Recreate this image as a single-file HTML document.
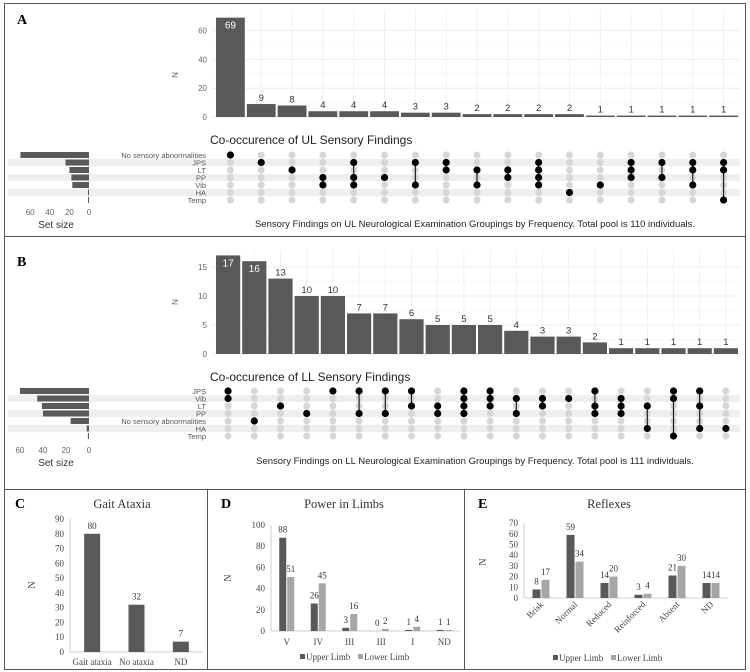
<!DOCTYPE html>
<html><head><meta charset="utf-8"><style>
html,body{margin:0;padding:0;background:#fff;}
svg{display:block;}
.sans{font-family:"Liberation Sans",sans-serif;}
.serif{font-family:"Liberation Serif",serif;}
</style></head>
<body>
<svg id="fig" width="750" height="672" viewBox="0 0 750 672" xmlns="http://www.w3.org/2000/svg">
<rect x="0" y="0" width="750" height="672" fill="#fff"/>
<rect x="4.5" y="3.5" width="741" height="233" fill="none" stroke="#555"/>
<rect x="4.5" y="236.5" width="741" height="253" fill="none" stroke="#555"/>
<rect x="4.5" y="489.5" width="203" height="180" fill="none" stroke="#555"/>
<rect x="207.5" y="489.5" width="257" height="180" fill="none" stroke="#555"/>
<rect x="464.5" y="489.5" width="281" height="180" fill="none" stroke="#555"/>
<text x="17" y="24" class="serif" font-size="14" font-weight="bold">A</text>
<text x="17" y="266" class="serif" font-size="14" font-weight="bold">B</text>
<text x="15" y="508" class="serif" font-size="14" font-weight="bold">C</text>
<text x="221" y="508" class="serif" font-size="14" font-weight="bold">D</text>
<text x="478" y="508" class="serif" font-size="14" font-weight="bold">E</text>
</svg>
<script>
// ---- Panel A data ----
const aValues = [69,9,8,4,4,4,3,3,2,2,2,2,1,1,1,1,1];
const aSets = ["No sensory abnormalities","JPS","LT","PP","Vib","HA","Temp"];
const aSetSizes = [70,24,20,18,17,1,1];
const aCombos = [[0],[1],[2],[3,4],[1,3,4],[3],[1,4],[1,2],[2,4],[2,3],[1,2,3,4],[5],[4],[1,2,3],[1,3],[1,2,4],[1,2,6]];
const aTicks = [0,20,40,60];
const aSetTicks = [60,40,20,0];
// ---- Panel B data ----
const bValues = [17,16,13,10,10,7,7,6,5,5,5,4,3,3,2,1,1,1,1,1];
const bSets = ["JPS","Vib","LT","PP","No sensory abnormalities","HA","Temp"];
const bSetSizes = [60,45,41,40,16,2,1];
const bCombos = [[0,1],[4],[2],[3],[0],[0,3],[0,3],[0,2],[2,3],[0,1,2,3],[0,1,2],[1,3],[1,2],[1],[0,2,3],[1,2,3],[2,5],[0,1,6],[0,2,5],[5]];
const bTicks = [0,5,10,15];
const bSetTicks = [60,40,20,0];
// ---- Panel C data ----
const cCats = ["Gait ataxia","No ataxia","ND"];
const cVals = [80,32,7];
const cTicks = [0,10,20,30,40,50,60,70,80,90];
// ---- Panel D data ----
const dCats = ["V","IV","III","III","I","ND"];
const dUpper = [88,26,3,0,1,1];
const dLower = [51,45,16,2,4,1];
const dTicks = [0,20,40,60,80,100];
// ---- Panel E data ----
const eCats = ["Brisk","Normal","Reduced","Reinforced","Absent","ND"];
const eUpper = [8,59,14,3,21,14];
const eLower = [17,34,20,4,30,14];
const eTicks = [0,10,20,30,40,50,60,70];

const NS="http://www.w3.org/2000/svg";
const svg=document.getElementById('fig');
function el(tag,attrs,txt){const e=document.createElementNS(NS,tag);for(const k in attrs)e.setAttribute(k,attrs[k]);if(txt!==undefined)e.textContent=txt;svg.appendChild(e);return e;}

function upset(o){
  const n=o.values.length, pitch=(o.x1-o.x0)/n;
  const y=v=>o.zero-v*o.ppu;
  const cx=i=>o.x0+(i+0.5)*pitch;
  // grid
  for(let k=0;k<o.ticks.length;k++){
    const t=o.ticks[k];
    let g=el('line',{x1:o.x0-3,x2:o.x1+1,y1:y(t),y2:y(t),stroke:'#e8e8e8','stroke-width':0.8});
    
    
    if(k<o.ticks.length-1){const m=(t+o.ticks[k+1])/2;
      let g2=el('line',{x1:o.x0-3,x2:o.x1+1,y1:y(m),y2:y(m),stroke:'#f2f2f2','stroke-width':0.6});
      
      }
    let tl=el('text',{x:o.x0-8,y:y(t)+3,'font-size':8,fill:'#666','text-anchor':'end',class:'sans'},String(t));
    
    
  }
  for(let i=0;i<n;i++){
    let g=el('line',{x1:cx(i),x2:cx(i),y1:o.top,y2:o.zero,stroke:'#ededed','stroke-width':0.8});
    
    
  }
  let yt=el('text',{x:o.nx,y:o.ny,'font-size':8,fill:'#666','text-anchor':'middle',class:'sans',transform:`rotate(90 ${o.nx} ${o.ny})`},'N');
  
  
  // bars
  for(let i=0;i<n;i++){
    const v=o.values[i];
    let b=el('rect',{x:o.x0+i*pitch+1,y:y(v),width:pitch-2,height:v*o.ppu,fill:'#595959'});
    
    
    const inside=i<o.inside;
    let t=el('text',{x:cx(i),y:inside?y(v)+11:y(v)-3,'font-size':inside?10:9.5,fill:inside?'#fff':'#333','text-anchor':'middle',class:'sans'},String(v));
    
    
  }
  let ti=el('text',{x:o.x0-5,y:o.titleY,'font-size':12,fill:'#222',class:'sans'},o.title);
  
  
  const ry=r=>o.row0+r*o.rowStep;
  // bands
  for(let r=1;r<o.sets.length;r+=2){
    let band=el('rect',{x:8,y:ry(r)-o.rowStep/2,width:732,height:o.rowStep,fill:'#efefef'});
    
    
  }
  // set labels and set size bars
  for(let r=0;r<o.sets.length;r++){
    let l=el('text',{x:206,y:ry(r)+2.8,'font-size':7.5,fill:'#555','text-anchor':'end',class:'sans'},o.sets[r]);
    
    
    const w=o.setSizes[r]*o.sppu;
    let b=el('rect',{x:89-w,y:ry(r)-3,width:Math.max(w,1),height:6,fill:'#595959'});
    
    
  }
  for(const t of o.setTicks){
    let tl=el('text',{x:89-t*o.sppu,y:o.setTickY,'font-size':8,fill:'#666','text-anchor':'middle',class:'sans'},String(t));
    
    
  }
  let st=el('text',{x:56,y:o.setTickY+13,'font-size':10,fill:'#333','text-anchor':'middle',class:'sans'},'Set size');
  
  
  // dots
  for(let i=0;i<n;i++){
    for(let r=0;r<o.sets.length;r++){
      let d=el('circle',{cx:cx(i),cy:ry(r),r:3.5,fill:'#d6d6d6'});
      
      
    }
    const c=o.combos[i];
    const mn=Math.min(...c),mx=Math.max(...c);
    if(mx>mn){let ln=el('line',{x1:cx(i),x2:cx(i),y1:ry(mn),y2:ry(mx),stroke:'#111','stroke-width':1.1});
      
      }
    for(const r of c){
      let d=el('circle',{cx:cx(i),cy:ry(r),r:3.6,fill:'#000'});
      
      
    }
  }
  let cap=el('text',{x:475,y:o.capY,'font-size':9.5,fill:'#222','text-anchor':'middle',class:'sans'},o.caption);
  
  
}

upset({values:aValues,sets:aSets,setSizes:aSetSizes,combos:aCombos,ticks:aTicks,setTicks:aSetTicks,
  x0:215,x1:739,zero:117,ppu:1.44,top:10,inside:1,nx:172,ny:75,title:'Co-occurence of UL Sensory Findings',titleY:144,
  row0:155,rowStep:7.5,sppu:0.98,setTickY:215,capY:227,
  caption:'Sensory Findings on UL Neurological Examination Groupings by Frequency. Total pool is 110 individuals.'});
upset({values:bValues,sets:bSets,setSizes:bSetSizes,combos:bCombos,ticks:bTicks,setTicks:bSetTicks,
  x0:215,x1:739,zero:354,ppu:5.8,top:250,inside:2,nx:172,ny:302,title:'Co-occurence of LL Sensory Findings',titleY:381,
  row0:391,rowStep:7.5,sppu:1.15,setTickY:453,capY:464,
  caption:'Sensory Findings on LL Neurological Examination Groupings by Frequency. Total pool is 111 individuals.'});

function barChart(o){
  const n=o.cats.length, pitch=(o.x1-o.x0)/n;
  const y=v=>o.zero-v*o.ppu;
  const cx=i=>o.x0+(i+0.5)*pitch;
  let ti=el('text',{x:o.titleX,y:508,'font-size':12.5,fill:'#333','text-anchor':'middle',class:'serif'},o.title);
  
  
  for(const t of o.ticks){
    let tl=el('text',{x:o.x0-6,y:y(t)+3,'font-size':9,fill:'#444','text-anchor':'end',class:'serif'},String(t));
    
    
  }
  let ax=el('line',{x1:o.x0,x2:o.x0,y1:y(o.ticks[o.ticks.length-1]),y2:o.zero,stroke:'#bfbfbf','stroke-width':0.8});
  
  
  let bx=el('line',{x1:o.x0,x2:o.x1,y1:o.zero,y2:o.zero,stroke:'#bfbfbf','stroke-width':0.8});
  
  
  let yt=el('text',{x:o.nx,y:o.ny,'font-size':10,fill:'#444','text-anchor':'middle',class:'serif',transform:`rotate(-90 ${o.nx} ${o.ny})`},'N');
  
  
  const cols=['#595959','#a6a6a6'];
  const ns=o.series.length;
  for(let i=0;i<n;i++){
    for(let s=0;s<ns;s++){
      const v=o.series[s][i];
      const bx0=ns===1?cx(i)-o.bw/2:cx(i)+(s===0?-o.bw-0.5:0.5);
      let b=el('rect',{x:bx0,y:y(v),width:o.bw,height:v*o.ppu,fill:cols[s]});
      
      
      let t=el('text',{x:bx0+o.bw/2,y:y(v)-5,'font-size':9,fill:'#333','text-anchor':'middle',class:'serif'},String(v));
      
      
    }
    let cl;
    if(o.rotate){cl=el('text',{x:cx(i)+3,y:o.zero+7,'font-size':9,fill:'#444','text-anchor':'end',class:'serif',transform:`rotate(-45 ${cx(i)+3} ${o.zero+7})`},o.cats[i]);}
    else{cl=el('text',{x:cx(i),y:o.catY,'font-size':9,fill:'#444','text-anchor':'middle',class:'serif'},o.cats[i]);}
    
    
  }
  if(o.legendY){
    let lx=o.legendX;
    ['Upper Limb','Lower Limb'].forEach((nm,s)=>{
      let sq=el('rect',{x:lx,y:o.legendY-6,width:5,height:5,fill:cols[s]});
      
      
      let lt=el('text',{x:lx+6,y:o.legendY,'font-size':9,fill:'#444',class:'serif'},nm);
      
      
      lx+=58;
    });
  }
}
barChart({cats:cCats,series:[cVals],ticks:cTicks,x0:70,x1:203,zero:652,ppu:1.478,bw:16,title:'Gait Ataxia',titleX:122,nx:35,ny:585,catY:665});
barChart({cats:dCats,series:[dUpper,dLower],ticks:dTicks,x0:271,x1:460,zero:631,ppu:1.06,bw:7,title:'Power in Limbs',titleX:344,nx:231,ny:578,catY:645,legendX:300,legendY:660});
barChart({cats:eCats,series:[eUpper,eLower],ticks:eTicks,x0:524,x1:728,zero:598,ppu:1.07,bw:8,title:'Reflexes',titleX:609,nx:486,ny:562,rotate:true,legendX:553,legendY:661});
</script>
</body></html>
